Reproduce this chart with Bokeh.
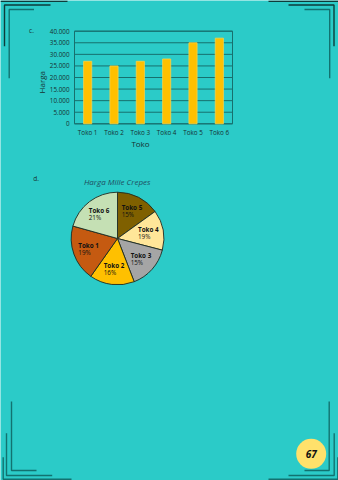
import math
from bokeh.plotting import figure
from bokeh.models import Range1d
from bokeh.core.properties import value
from bokeh.embed import file_html
from bokeh.resources import INLINE

# ---------------- data ----------------
toko = ["Toko 1", "Toko 2", "Toko 3", "Toko 4", "Toko 5", "Toko 6"]
harga = [27000, 25000, 27000, 28000, 35000, 37000]
y_ticks = [0, 5000, 10000, 15000, 20000, 25000, 30000, 35000, 40000]
y_tick_labels = ["0", "5.000", "10.000", "15.000", "20.000", "25.000", "30.000", "35.000", "40.000"]

pie_values = [27000, 25000, 27000, 28000, 35000, 37000]
pie_names = ["Toko 5", "Toko 4", "Toko 3", "Toko 2", "Toko 1", "Toko 6"]
pie_pcts = ["15%", "19%", "15%", "16%", "19%", "21%"]
pie_colors = ["#7F6000", "#FFE699", "#A5A5A5", "#FFC000", "#C55A11", "#C5E0B4"]

page_number = "67"

# ---------------- layout constants ----------------
W, H = 338, 480
BG = "#2BCBC8"
FONT = "Open Sans"
TXT = "#17302F"

# bar chart frame in page pixels
fx0, fx1 = 74.0, 232.0
fy_top, fy_bot = 30.7, 123.3
ymax = 40000.0

p = figure(width=W, height=H, output_backend="svg", toolbar_location=None,
           x_range=Range1d(0, W), y_range=Range1d(H, 0),
           min_border=0, min_border_left=0, min_border_right=0,
           min_border_top=0, min_border_bottom=0)
p.axis.visible = False
p.grid.visible = False
p.outline_line_color = None
p.background_fill_color = BG
p.border_fill_color = BG

# extra ranges for the bar chart
ky = (fy_bot - fy_top) / ymax          # px per unit
ystart = -(H - fy_bot) / ky
p.extra_y_ranges = {"bar": Range1d(ystart, ystart + H / ky)}
n = len(toko)
kx = (fx1 - fx0) / n
xstart = -fx0 / kx
p.extra_x_ranges = {"bar": Range1d(xstart, xstart + W / kx)}

centers = [i + 0.5 for i in range(n)]

# gridlines
p.segment(x0=[0] * len(y_ticks), x1=[n] * len(y_ticks), y0=y_ticks, y1=y_ticks,
          x_range_name="bar", y_range_name="bar", line_color="#17706E", line_width=1)
# frame
p.quad(left=[0], right=[n], bottom=[0], top=[ymax], fill_color=None,
       line_color="#17706E", line_width=1, x_range_name="bar", y_range_name="bar")
# bars
p.vbar(x=centers, top=harga, bottom=0, width=0.31, fill_color="#FFC000",
       line_color="#F5D24A", line_width=0.8, x_range_name="bar", y_range_name="bar")

# y tick labels
p.text(x=[69] * len(y_ticks), y=y_ticks, text=y_tick_labels, y_range_name="bar",
       text_align="right", text_baseline="middle", text_font_size="6.3px",
       text_font=value(FONT), text_color=TXT)
# x category labels
p.text(x=centers, y=[132] * n, text=toko, x_range_name="bar",
       text_align="center", text_baseline="middle", text_font_size="6.3px",
       text_font=value(FONT), text_color=TXT)
# axis titles
p.text(x=[140], y=[143], text=["Toko"], text_align="center", text_baseline="middle",
       text_font_size="8px", text_font=value(FONT), text_color=TXT)
p.text(x=[40.7], y=[81.7], text=["Harga"], angle=math.pi / 2, text_align="center",
       text_baseline="middle", text_font_size="8px", text_font=value(FONT), text_color=TXT)
# section letters
p.text(x=[31, 35.7], y=[30, 177.7], text=["c.", "d."], text_align="center",
       text_baseline="middle", text_font_size="6.5px", text_font=value(FONT), text_color=TXT)

# ---------------- pie ----------------
pcx, pcy, pr = 117.0, 238.0, 46.3
total = float(sum(pie_values))
starts, ends, mids = [], [], []
acc = 0.0
for v in pie_values:
    a0 = math.pi / 2 - acc / total * 2 * math.pi
    acc += v
    a1 = math.pi / 2 - acc / total * 2 * math.pi
    starts.append(a0)
    ends.append(a1)
    mids.append((a0 + a1) / 2)

p.wedge(x=[pcx] * len(pie_values), y=[pcy] * len(pie_values), radius=pr,
        start_angle=starts, end_angle=ends, direction="clock",
        fill_color=pie_colors, line_color="#1E2A20", line_width=0.9)

lr = 0.67 * pr
lx = [pcx + lr * math.cos(a) - 10 for a in mids]
ly = [pcy - lr * math.sin(a) for a in mids]
p.text(x=lx, y=[y - 3.6 for y in ly], text=pie_names, text_align="left",
       text_baseline="middle", text_font_size="6.3px", text_font=value(FONT),
       text_font_style="bold", text_color="#111111")
p.text(x=lx, y=[y + 3.6 for y in ly], text=pie_pcts, text_align="left",
       text_baseline="middle", text_font_size="6.3px", text_font=value(FONT),
       text_color="#111111")

p.text(x=[116.7], y=[180.7], text=["Harga Mille Crepes"], text_align="center",
       text_baseline="middle", text_font_size="8px", text_font=value(FONT),
       text_font_style="italic", text_color="#1F4E5F")

# ---------------- page decorations ----------------
DARK = "#0E3B3A"
MID = "#127270"
# top-left
p.line(x=[0, 67], y=[0.8, 0.8], line_color=DARK, line_width=1.6)
p.line(x=[4, 4, 50], y=[45.7, 4.5, 4.5], line_color=DARK, line_width=1.4)
p.line(x=[8.7, 8.7, 33.5], y=[77.7, 9, 9], line_color=MID, line_width=1.4)
# top-right
p.line(x=[268, 338], y=[0.8, 0.8], line_color=DARK, line_width=1.6)
p.line(x=[288, 333.5, 333.5], y=[4.5, 4.5, 45.7], line_color=DARK, line_width=1.4)
p.line(x=[304, 329.2, 329.2], y=[9, 9, 77.7], line_color=MID, line_width=1.4)
# bottom-left
p.line(x=[11, 11, 36], y=[401, 470, 470], line_color=MID, line_width=1.4)
p.line(x=[6, 6, 51.7], y=[432.7, 475, 475], line_color=MID, line_width=1.4)
p.line(x=[2.7, 2.7, 71], y=[456.7, 478.7, 478.7], line_color=MID, line_width=1.4)
# bottom-right
p.line(x=[304, 328.7, 328.7], y=[470, 470, 401], line_color=MID, line_width=1.4)
p.line(x=[288, 333.7, 333.7], y=[475, 475, 432.7], line_color=MID, line_width=1.4)
p.line(x=[268, 337.3, 337.3], y=[478.7, 478.7, 456.7], line_color=MID, line_width=1.4)

# page number
p.scatter(x=[310.7], y=[453.3], size=30, marker="circle", fill_color="#FFE16B",
          line_color=None)
p.text(x=[310.7], y=[453.6], text=[page_number], text_align="center",
       text_baseline="middle", text_font_size="10px", text_font=value(FONT),
       text_font_style="bold italic", text_color="#111111")

open("out.html", "w").write(file_html(p, INLINE))
